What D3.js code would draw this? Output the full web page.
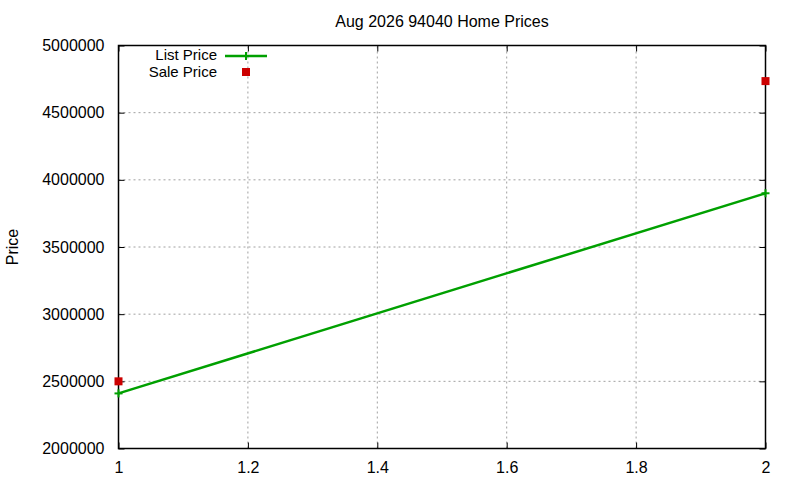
<!DOCTYPE html>
<html>
<head>
<meta charset="utf-8">
<script src="https://cdn.jsdelivr.net/npm/d3@7"></script>
<style>
  body { margin: 0; background: #fff; }
  text { font-family: "Liberation Sans", Arial, sans-serif; font-size: 16px; fill: #000; }
</style>
</head>
<body>
<svg id="chart" width="800" height="480"></svg>
<script>
const title = "Aug 2026 94040 Home Prices";
const yLabel = "Price";
const months = [1, 2];
const listPrice = [2410000, 3900000];
const salePrice = [2500000, 4735000];
const xTicks = [1, 1.2, 1.4, 1.6, 1.8, 2];
const yTicks = [2000000, 2500000, 3000000, 3500000, 4000000, 4500000, 5000000];

const svg = d3.select("#chart");
const margin = { left: 118.5, right: 34.5, top: 45.5, bottom: 31.5 };
const width = 800, height = 480;

const x = d3.scaleLinear()
  .domain([1, 2])
  .range([margin.left, width - margin.right]);
const y = d3.scaleLinear()
  .domain([2000000, 5000000])
  .range([height - margin.bottom, margin.top]);

// grid
const grid = svg.append("g")
    .attr("stroke", "#a0a0a0")
    .attr("stroke-width", 1)
    .attr("stroke-dasharray", "2 3");
grid.selectAll(".gx")
  .data(xTicks.slice(1, -1))
  .join("line")
    .attr("x1", d => x(d)).attr("x2", d => x(d))
    .attr("y1", y.range()[0]).attr("y2", y.range()[1]);
grid.selectAll(".gy")
  .data(yTicks.slice(1, -1))
  .join("line")
    .attr("x1", x.range()[0]).attr("x2", x.range()[1])
    .attr("y1", d => y(d)).attr("y2", d => y(d));

// axes (ticks inward, mirrored)
const fmt = d => String(d);
svg.append("g")
    .attr("transform", `translate(0,${y.range()[0]})`)
    .call(d3.axisBottom(x).tickValues(xTicks).tickSize(-6).tickPadding(13).tickFormat(fmt))
    .call(g => g.select(".domain").remove());
svg.append("g")
    .attr("transform", `translate(0,${y.range()[1]})`)
    .call(d3.axisTop(x).tickValues(xTicks).tickSize(-6).tickFormat(""))
    .call(g => g.select(".domain").remove());
svg.append("g")
    .attr("transform", `translate(${x.range()[0]},0)`)
    .call(d3.axisLeft(y).tickValues(yTicks).tickSize(-6).tickPadding(14).tickFormat(fmt))
    .call(g => g.select(".domain").remove());
svg.append("g")
    .attr("transform", `translate(${x.range()[1]},0)`)
    .call(d3.axisRight(y).tickValues(yTicks).tickSize(-6).tickFormat(""))
    .call(g => g.select(".domain").remove());
svg.selectAll(".tick text").style("font-size", "16px").attr("fill", "#000");
svg.selectAll(".tick line").attr("stroke", "#000");

svg.append("rect")
    .attr("x", x.range()[0])
    .attr("y", y.range()[1])
    .attr("width", x.range()[1] - x.range()[0])
    .attr("height", y.range()[0] - y.range()[1])
    .attr("fill", "none")
    .attr("stroke", "#000")
    .attr("stroke-width", 1.5);

// list price line
const green = "#00a000", red = "#cc0000";
const listData = months.map((m, i) => [m, listPrice[i]]);
svg.append("path")
    .datum(listData)
    .attr("fill", "none")
    .attr("stroke", green)
    .attr("stroke-width", 2.5)
    .attr("d", d3.line().x(d => x(d[0])).y(d => y(d[1])));

const plus = (g, cx, cy) => {
  g.append("line").attr("x1", cx - 4).attr("x2", cx + 4).attr("y1", cy).attr("y2", cy);
  g.append("line").attr("x1", cx).attr("x2", cx).attr("y1", cy - 4).attr("y2", cy + 4);
};
const plusG = svg.append("g").attr("stroke", green).attr("stroke-width", 2);
listData.forEach(d => plus(plusG, x(d[0]), y(d[1])));

// sale price squares
svg.append("g")
    .attr("fill", red)
  .selectAll("rect")
  .data(months.map((m, i) => [m, salePrice[i]]))
  .join("rect")
    .attr("x", d => x(d[0]) - 4)
    .attr("y", d => y(d[1]) - 4)
    .attr("width", 8)
    .attr("height", 8);

// legend
const legend = svg.append("g");
legend.append("text")
    .attr("x", 217).attr("y", 55).attr("dy", "0.35em")
    .attr("text-anchor", "end").style("font-size", "15px").text("List Price");
legend.append("line")
    .attr("x1", 225).attr("x2", 267).attr("y1", 56).attr("y2", 56)
    .attr("stroke", green).attr("stroke-width", 2.5);
const legPlus = legend.append("g").attr("stroke", green).attr("stroke-width", 2);
plus(legPlus, 246, 56);
legend.append("text")
    .attr("x", 217).attr("y", 72).attr("dy", "0.35em")
    .attr("text-anchor", "end").style("font-size", "15px").text("Sale Price");
legend.append("rect")
    .attr("x", 242).attr("y", 68).attr("width", 8).attr("height", 8)
    .attr("fill", red);

// title and label
svg.append("text")
    .attr("x", (x.range()[0] + x.range()[1]) / 2)
    .attr("y", 21).attr("dy", "0.35em")
    .attr("text-anchor", "middle")
    .text(title);
svg.append("text")
    .attr("transform", "translate(12,247) rotate(-90)")
    .attr("dy", "0.35em")
    .attr("text-anchor", "middle")
    .text(yLabel);
</script>
</body>
</html>
